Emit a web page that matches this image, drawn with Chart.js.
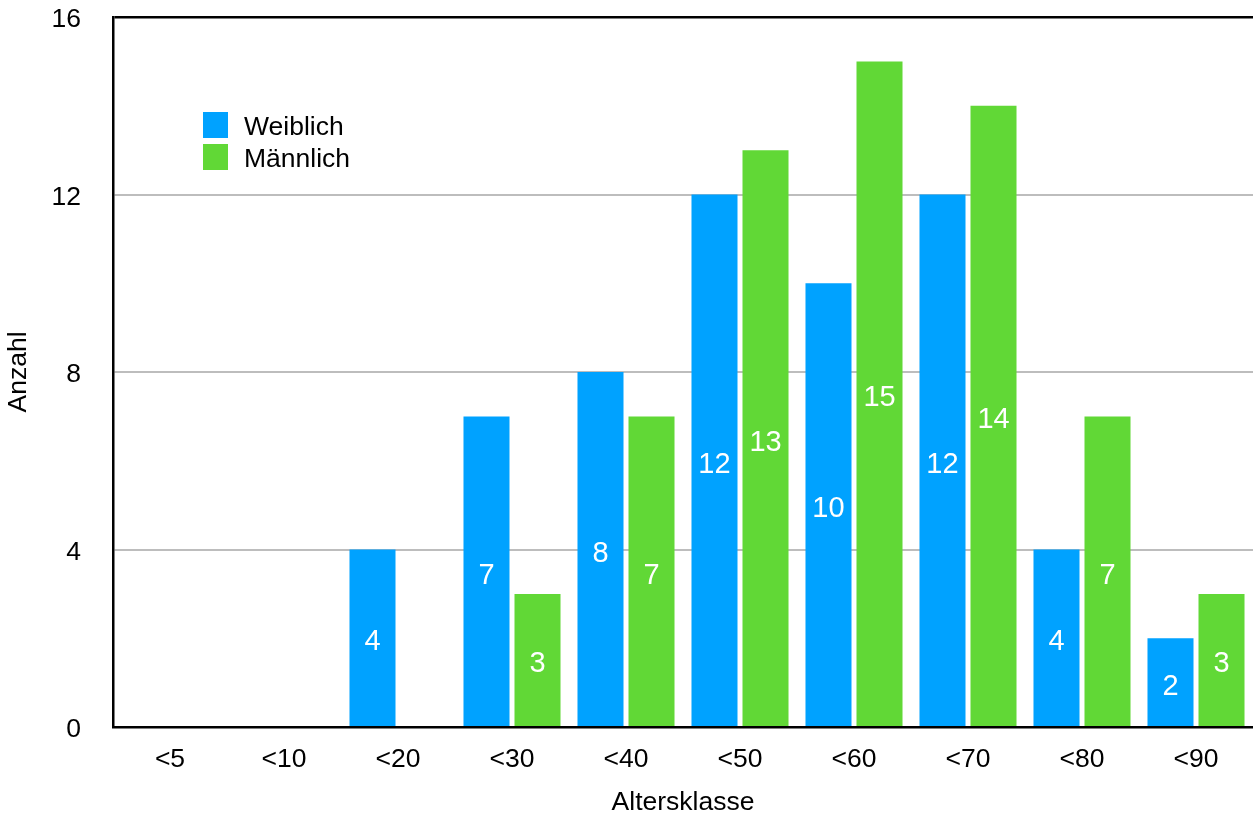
<!DOCTYPE html>
<html>
<head>
<meta charset="utf-8">
<script src="https://cdn.jsdelivr.net/npm/chart.js@4/dist/chart.umd.min.js"></script>
<style>
  html, body { margin: 0; padding: 0; background: #fff; }
  canvas { display: block; }
</style>
</head>
<body>
<canvas id="c" width="1253" height="816"></canvas>
<script>
// Altersklassen und Anzahl je Geschlecht
const categories = ['<5', '<10', '<20', '<30', '<40', '<50', '<60', '<70', '<80', '<90'];
const weiblich   = [0, 0, 4, 7, 8, 12, 10, 12, 4, 2];
const maennlich  = [0, 0, 0, 3, 7, 13, 15, 14, 7, 3];
const yTicks     = [0, 4, 8, 12, 16];

const FONT = '"Liberation Sans", Arial, Helvetica, sans-serif';
Chart.defaults.font.family = FONT;
Chart.defaults.font.size = 26.5;
Chart.defaults.color = '#000';

// White value labels centred inside each bar
const valueLabels = {
  id: 'valueLabels',
  afterDatasetsDraw(chart) {
    const ctx = chart.ctx;
    const yScale = chart.scales.y;
    ctx.save();
    ctx.fillStyle = '#fff';
    ctx.font = '29px ' + FONT;
    ctx.textAlign = 'center';
    ctx.textBaseline = 'middle';
    chart.data.datasets.forEach((ds, i) => {
      chart.getDatasetMeta(i).data.forEach((bar, j) => {
        const v = ds.data[j];
        if (!v) return;
        ctx.fillText(String(v), bar.x, yScale.getPixelForValue(v / 2) + 4);
      });
    });
    ctx.restore();
  }
};

// Legend drawn inside the plot area, upper left
const insideLegend = {
  id: 'insideLegend',
  afterDraw(chart) {
    const { ctx, chartArea } = chart;
    const x0 = chartArea.left + 90;
    const y0 = chartArea.top + 95;
    ctx.save();
    chart.data.datasets.forEach((ds, i) => {
      const y = y0 + i * 32;
      ctx.fillStyle = ds.backgroundColor;
      ctx.fillRect(x0, y, 25, 26);
      ctx.fillStyle = '#000';
      ctx.font = '26.5px ' + FONT;
      ctx.textAlign = 'left';
      ctx.textBaseline = 'middle';
      ctx.fillText(ds.label, x0 + 41, y + 16);
    });
    ctx.restore();
  }
};

new Chart(document.getElementById('c'), {
  type: 'bar',
  data: {
    labels: categories,
    datasets: [
      { label: 'Weiblich', data: weiblich, backgroundColor: '#00A2FF',
        categoryPercentage: 0.895, barPercentage: 0.902 },
      { label: 'Männlich', data: maennlich, backgroundColor: '#61D836',
        categoryPercentage: 0.895, barPercentage: 0.902 }
    ]
  },
  options: {
    responsive: false,
    animation: false,
    layout: { padding: { top: 17, right: 0, bottom: 0, left: 0 } },
    plugins: {
      legend: { display: false },
      tooltip: { enabled: false }
    },
    scales: {
      x: {
        grid: { display: false, drawTicks: false },
        border: { color: '#000', width: 2.5 },
        ticks: { padding: 17, maxRotation: 0 },
        title: { display: true, text: 'Altersklasse', font: { lineHeight: 1.0 },
                 padding: { top: 0, bottom: 0 } },
        afterFit(scale) { scale.height = 89; }
      },
      y: {
        min: 0,
        max: 16,
        afterBuildTicks(scale) { scale.ticks = yTicks.map(v => ({ value: v })); },
        grid: {
          drawTicks: false,
          lineWidth: ctx => (ctx.tick && ctx.tick.value === 16) ? 2.5 : 2,
          color: ctx => (ctx.tick && ctx.tick.value === 16) ? '#000' : '#bdbdbd'
        },
        border: { color: '#000', width: 2.5 },
        ticks: { padding: 32, labelOffset: 3 },
        title: { display: true, text: 'Anzahl', padding: { top: 3, bottom: 0 } },
        afterFit(scale) {
          scale.width = 113;
          scale.paddingTop = 12;
          scale.paddingBottom = 12;
        }
      }
    }
  },
  plugins: [valueLabels, insideLegend]
});
</script>
</body>
</html>
